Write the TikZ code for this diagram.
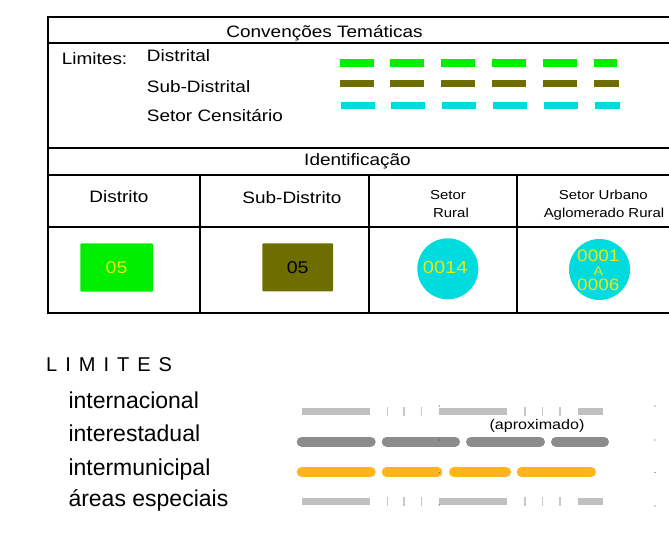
\documentclass[tikz,border=0pt]{standalone}
\usepackage{fontspec}
\setmainfont{Liberation Sans}
\newfontfamily\tf[FakeStretch=1.15]{Liberation Sans}
\definecolor{cgreen}{RGB}{0,238,0}
\definecolor{colive}{RGB}{110,110,0}
\definecolor{ccyan}{RGB}{0,220,222}
\definecolor{clight}{RGB}{192,192,192}
\definecolor{ctick}{RGB}{200,200,200}
\definecolor{cdark}{RGB}{140,140,140}
\definecolor{corange}{RGB}{255,180,30}
\definecolor{cyel}{RGB}{232,232,20}
\begin{document}
\begin{tikzpicture}[x=1pt,y=-1pt,
  tbl/.style={line width=1.8pt,black},
  ttext/.style={inner sep=0pt,anchor=base,font=\tf\fontsize{16.5}{18}\selectfont},
  tleft/.style={inner sep=0pt,anchor=base west,font=\tf\fontsize{16.5}{18}\selectfont},
  tsmall/.style={inner sep=0pt,anchor=base,font=\tf\fontsize{13}{18.5}\selectfont},
  ltext/.style={inner sep=0pt,anchor=base west,font=\fontsize{23}{26}\selectfont},
  dashseg/.style={line width=7.2pt},
  solidbar/.style={clight,line width=7.2pt},
  tickmark/.style={ctick,line width=1.3pt},
  roundbar/.style={line width=10pt,line cap=round},
  tinydot/.style={fill=black!70,draw=none}]
\useasboundingbox (0,0) rectangle (669,540);

% ---------- table ----------
\draw[tbl] (669,16.7) -- (48.3,16.7) -- (48.3,313.3) -- (669,313.3);
\foreach \yy in {43.3,148.3,175,226.7} \draw[tbl] (48.3,\yy) -- (669,\yy);
\foreach \xx in {200,369,516.7} \draw[tbl] (\xx,175) -- (\xx,313.3);

\node[ttext] (title) at (324.5,37.5) {Convenções Temáticas};
\node[tleft] (lim) at (61.7,65) {Limites:};
\node[tleft] (dist) at (146.7,61.7) {Distrital};
\node[tleft] (subd) at (146.7,92.7) {Sub-Distrital};
\node[tleft] (setc) at (146.7,121.7) {Setor Censitário};

% dashes
\foreach \xa/\xb in {340/374,390/424.3,440.7/474.7,492/526,543.3/577.3,594.3/616.7}
  \draw[dashseg,cgreen] (\xa,63) -- (\xb,63);
\foreach \xa/\xb in {340/374,390/424.3,440.7/474.7,492/526,543.3/577.3,594.3/619}
  \draw[dashseg,colive] (\xa,83.8) -- (\xb,83.8);
\foreach \xa/\xb in {340.7/375,390.7/425,442/476.3,493.3/527.3,544/578,595.3/620.3}
  \draw[dashseg,ccyan] (\xa,105.5) -- (\xb,105.5);

\node[ttext] (ident) at (357.5,166) {Identificação};
\node[ttext] (hdist) at (119,202.7) {Distrito};
\node[ttext] (hsub) at (292,203.3) {Sub-Distrito};
\node[tsmall] (hrur1) at (448,199.3) {Setor};
\node[tsmall] (hrur2) at (451,217.7) {Rural};
\node[tsmall] (hurb1) at (603.3,199.3) {Setor Urbano};
\node[tsmall] (hurb2) at (604,217.7) {Aglomerado Rural};

% symbols
\node[fill=cgreen,minimum width=72.6pt,minimum height=48.4pt,inner sep=0pt,rounded corners=1pt,
  font=\tf\fontsize{17}{18}\selectfont,text=cyel] (gbox) at (116.6,267.5) {05};
\node[fill=colive,minimum width=70.7pt,minimum height=48pt,inner sep=0pt,rounded corners=1pt,
  font=\tf\fontsize{17}{18}\selectfont,text=black] (obox) at (297.7,267.3) {05};
\node[circle,fill=ccyan,minimum size=61pt,inner sep=0pt] (c1) at (447.8,268.8) {};
\node[inner sep=0pt,font=\tf\fontsize{17.5}{18}\selectfont,text=cyel] (c1t) at (445.2,267.3) {0014};
\node[circle,fill=ccyan,minimum size=61pt,inner sep=0pt] (c2) at (599.5,269.5) {};
\node[inner sep=0pt,anchor=base,font=\tf\fontsize{16.5}{18}\selectfont,text=cyel] (c2a) at (598.3,261) {0001};
\node[inner sep=0pt,anchor=base,font=\tf\fontsize{12.5}{14}\selectfont,text=cyel] (c2b) at (598.3,275) {A};
\node[inner sep=0pt,anchor=base,font=\tf\fontsize{16.5}{18}\selectfont,text=cyel] (c2c) at (598.3,290.5) {0006};

% ---------- LIMITES ----------
\node[inner sep=0pt,anchor=base west,font=\fontsize{20}{22}\selectfont] (limh) at (46,371)
  {L\kern8pt I\kern8pt M\kern8pt I\kern8pt T\kern8pt E\kern8pt S};
\node[ltext] (l1) at (68.3,408.3) {internacional};
\node[ltext] (l2) at (68.3,441.7) {interestadual};
\node[ltext] (l3) at (68.3,475) {intermunicipal};
\node[ltext] (l4) at (68.3,506.7) {áreas especiais};

% internacional and areas especiais patterns
\foreach \yc/\ya/\yb in {411.5/407/415.5, 501.2/497/505.5}{
  \foreach \xa/\xb in {301.7/370,439.3/507.3,577.7/603.3}
    \draw[solidbar] (\xa,\yc) -- (\xb,\yc);
  \foreach \xx in {387.3,404,421.7,525,542.7,560}
    \draw[tickmark] (\xx,\ya) -- (\xx,\yb);
}
% interestadual
\foreach \xa/\xb in {301.7/370.7,386.7/455,471/540,556/604}
  \draw[roundbar,cdark] (\xa,441.7) -- (\xb,441.7);
% intermunicipal
\foreach \xa/\xb in {301.7/370.7,386.7/437.3,454/506,521.7/591}
  \draw[roundbar,corange] (\xa,472) -- (\xb,472);

\node[inner sep=0pt,anchor=base,font=\tf\fontsize{14}{16}\selectfont] (aprox) at (537,429.3) {(aproximado)};

% tiny dots
\foreach \px/\py in {439.3/406,655/406,439.3/440,655/440,439.3/472.7,655/472.5,439.3/505,655/506}
  \fill[tinydot] (\px,\py) circle (0.6pt);
\end{tikzpicture}
\end{document}
